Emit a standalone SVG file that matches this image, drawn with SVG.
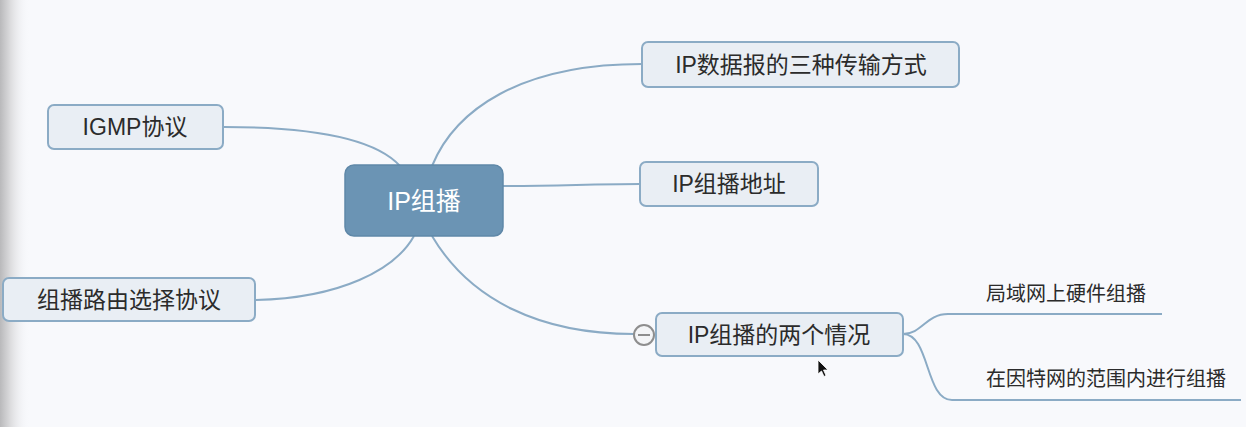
<svg xmlns="http://www.w3.org/2000/svg" width="1246" height="427" viewBox="0 0 1246 427">
  <defs>
    <linearGradient id="edge" x1="0" y1="0" x2="1" y2="0">
      <stop offset="0" stop-color="#b9b9bb"/>
      <stop offset="0.35" stop-color="#dcdcde"/>
      <stop offset="1" stop-color="#f8f9fc" stop-opacity="0"/>
    </linearGradient>
  </defs>
  <style>
    .box { fill: #e9eef4; stroke: #8babc5; stroke-width: 2; }
    .root { fill: #6b94b4; stroke: #5f88a8; stroke-width: 1.5; }
    .t { font-family: "Liberation Sans", "Noto Sans CJK SC", sans-serif; font-size: 23px; fill: #2b2b2b; text-anchor: middle; dominant-baseline: central; }
    .rt { font-family: "Liberation Sans", "Noto Sans CJK SC", sans-serif; font-size: 25px; fill: #ffffff; text-anchor: middle; dominant-baseline: central; }
    .st { font-family: "Liberation Sans", "Noto Sans CJK SC", sans-serif; font-size: 20px; fill: #2b2b2b; text-anchor: start; dominant-baseline: central; }
    .c { fill: none; stroke: #8babc5; stroke-width: 2; }
  </style>
  <rect x="0" y="0" width="1246" height="427" fill="#f8f9fc"/>
  <rect x="0" y="0" width="30" height="427" fill="url(#edge)"/>

  <g id="connectors">
    <path class="c" d="M432,166 C455,110 520,64 642,64"/>
    <path class="c" d="M224,127 C300,127 372,135 400,166"/>
    <path class="c" d="M256,300 C340,298 395,270 414,236"/>
    <path class="c" d="M503,186 C560,186 590,184 640,184"/>
    <path class="c" d="M432,236 C470,300 540,334 634,334"/>
    <path class="c" d="M903,334 C922,334 926,314 948,314 L1162,314"/>
    <path class="c" d="M903,334 C930,334 925,400 952,400 L1241,400"/>
  </g>

  <g id="root">
    <rect class="root" x="345" y="165" width="158" height="71" rx="9"/>
    <text class="rt" x="424" y="201">IP组播</text>
  </g>
  <g id="n-transmit">
    <rect class="box" x="642" y="42" width="317" height="45" rx="6"/>
    <text class="t" x="801" y="65">IP数据报的三种传输方式</text>
  </g>
  <g id="n-address">
    <rect class="box" x="640" y="162" width="178" height="44" rx="6"/>
    <text class="t" x="729" y="184">IP组播地址</text>
  </g>
  <g id="n-cases">
    <rect class="box" x="656" y="313" width="247" height="43" rx="6"/>
    <text class="t" x="779" y="335">IP组播的两个情况</text>
    <circle cx="644" cy="335" r="10" fill="#f4f5f7" stroke="#8e8e8e" stroke-width="2"/>
    <line x1="638" y1="335" x2="650" y2="335" stroke="#8e8e8e" stroke-width="2"/>
  </g>
  <g id="n-igmp">
    <rect class="box" x="48" y="105" width="175" height="44" rx="6"/>
    <text class="t" x="135" y="127">IGMP协议</text>
  </g>
  <g id="n-routing">
    <rect class="box" x="3" y="278" width="252" height="43" rx="6"/>
    <text class="t" x="129" y="300">组播路由选择协议</text>
  </g>
  <g id="n-lan">
    <text class="st" x="986" y="294">局域网上硬件组播</text>
  </g>
  <g id="n-internet">
    <text class="st" x="986" y="379">在因特网的范围内进行组播</text>
  </g>

  <path d="M818,360 L818,374 L821.5,371 L824,376.5 L826,375.5 L823.5,370 L828,370 Z" fill="#111" stroke="#fff" stroke-width="0.8"/>
</svg>
